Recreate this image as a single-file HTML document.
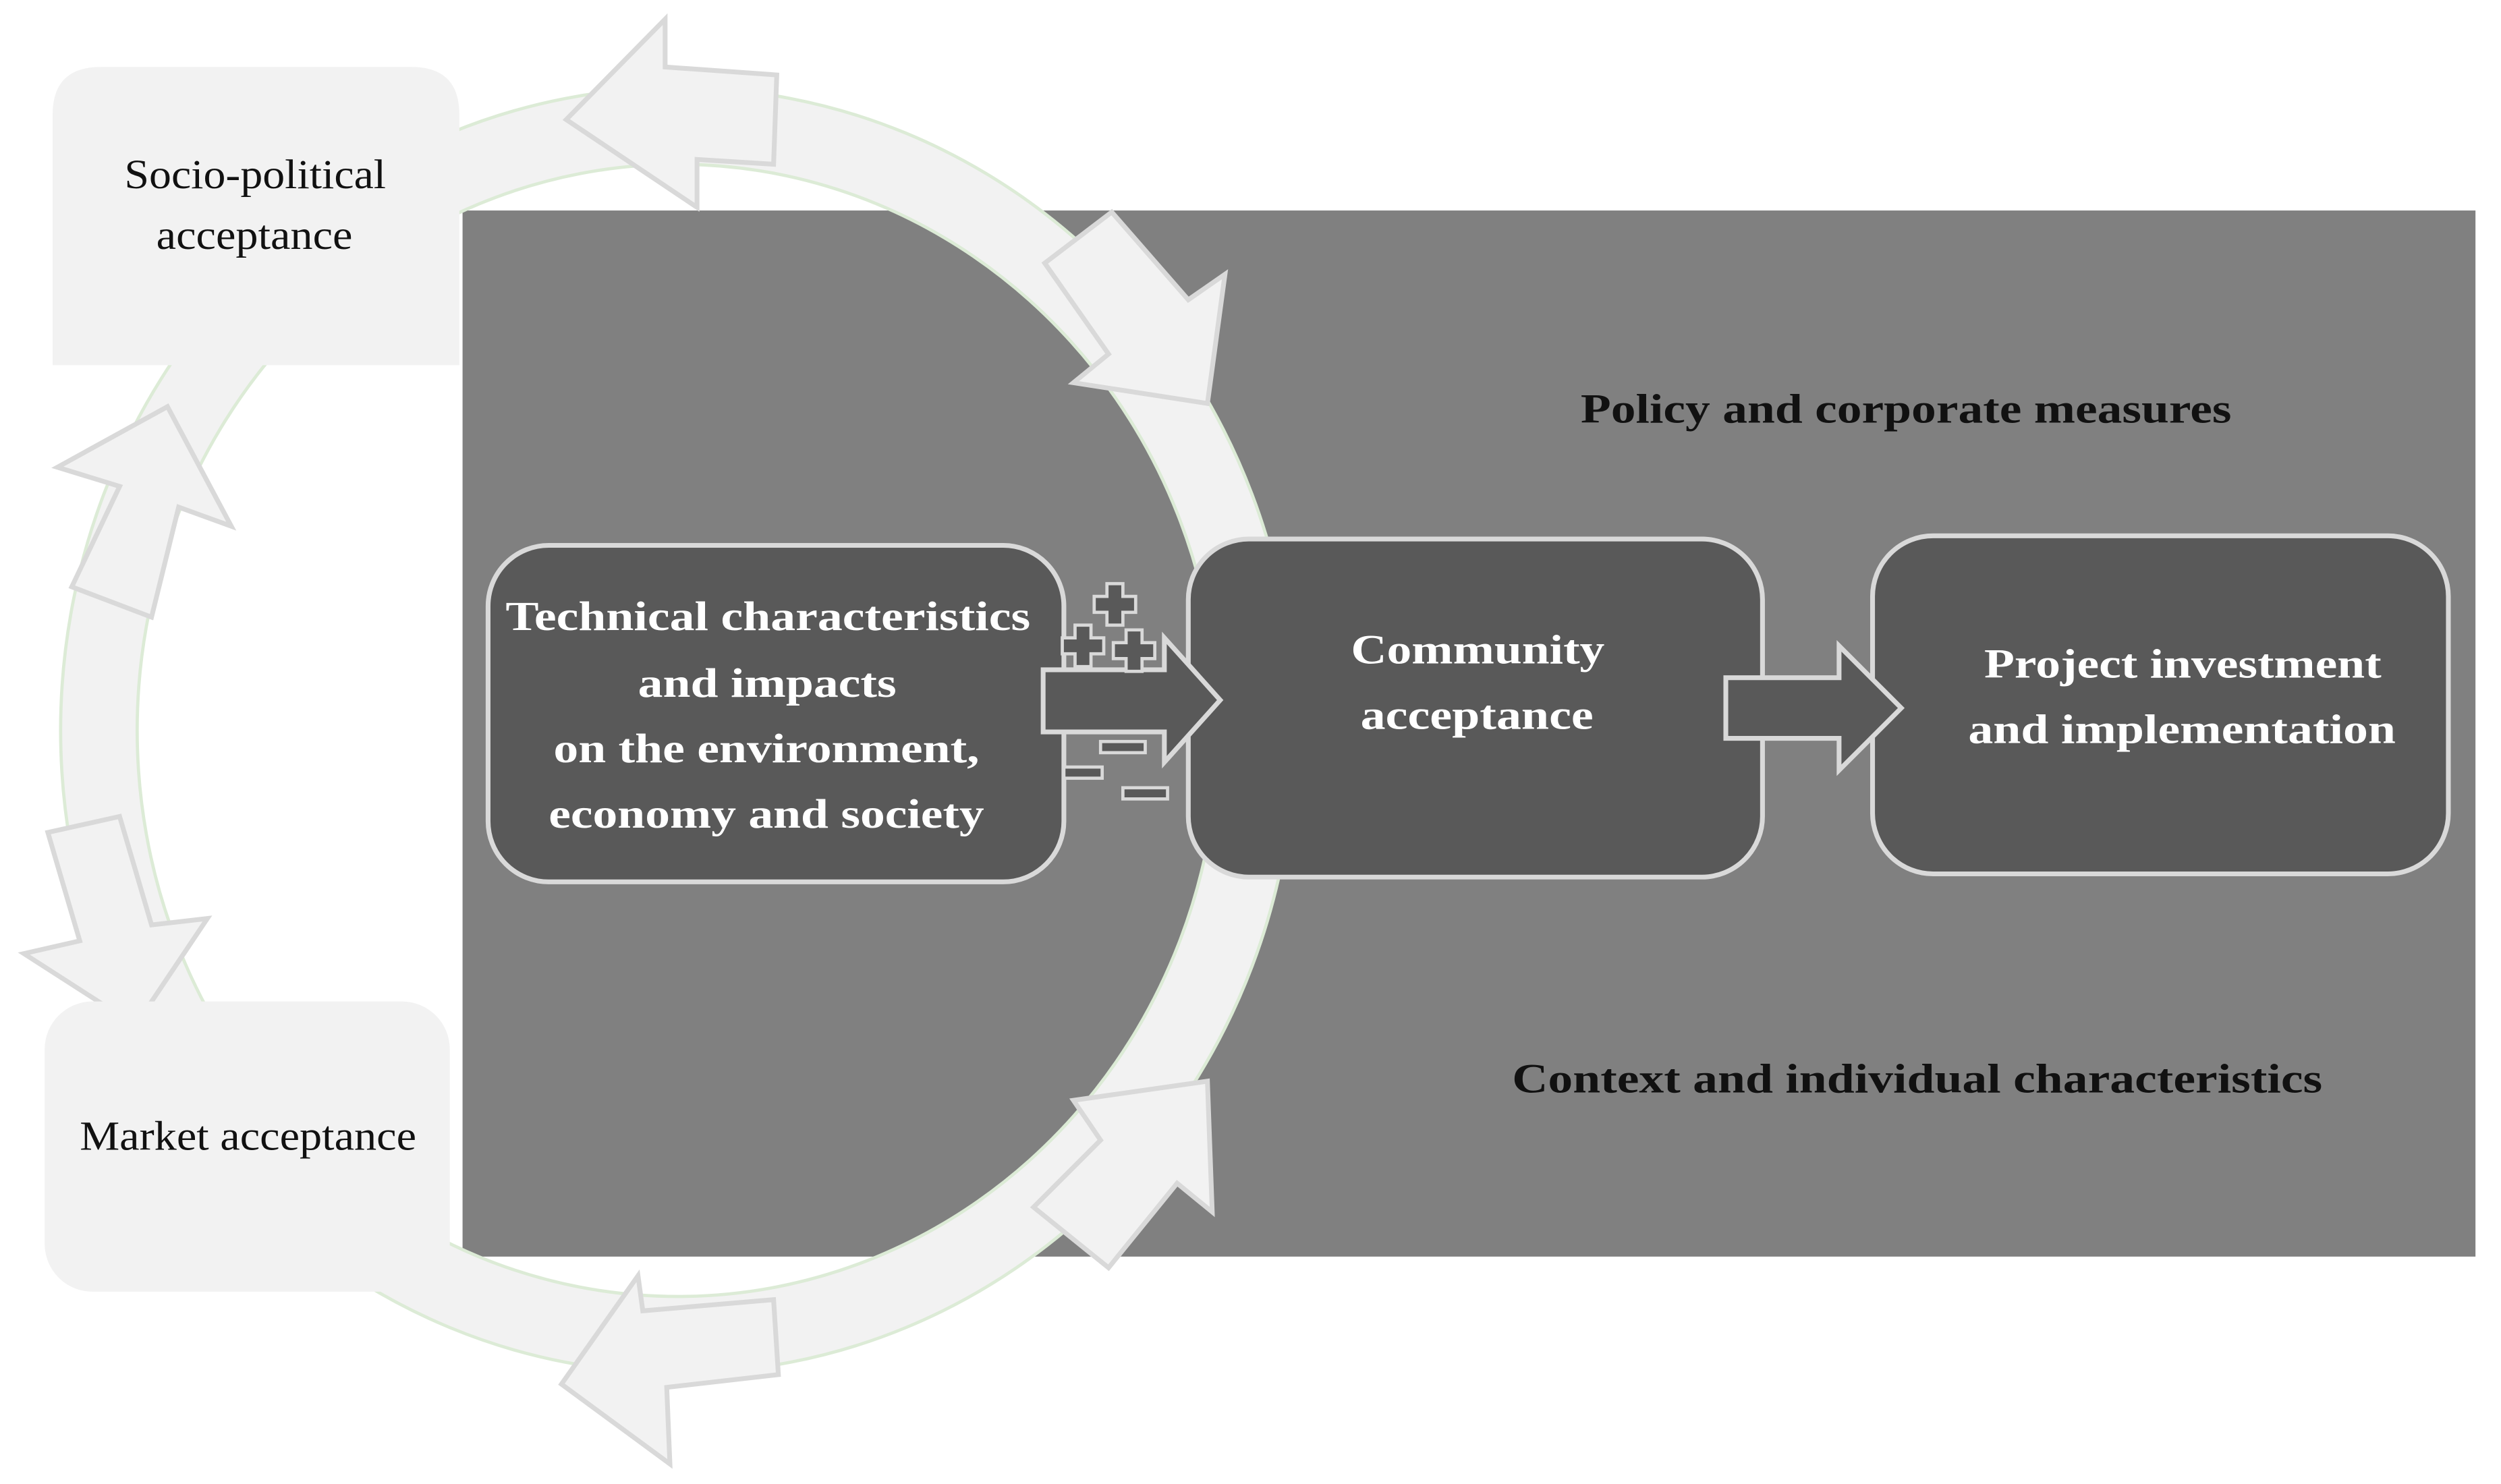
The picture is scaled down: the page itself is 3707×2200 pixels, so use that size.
<!DOCTYPE html>
<html><head><meta charset="utf-8"><style>
html,body{margin:0;padding:0;background:#fff;}
svg{display:block;}
</style></head><body>
<svg width="3707" height="2200" viewBox="0 0 1568 930.6" preserveAspectRatio="none" xmlns="http://www.w3.org/2000/svg">
<rect width="1568" height="931" fill="#fff"/>
<rect x="290" y="132" width="1262" height="656" fill="#808080"/>
<!-- ring -->
<ellipse cx="425" cy="458" rx="363" ry="379" fill="none" stroke="#dcebd6" stroke-width="50"/>
<ellipse cx="425" cy="458" rx="363" ry="379" fill="none" stroke="#f2f2f2" stroke-width="46"/>
<!-- ring arrows -->
<g fill="#f2f2f2" stroke="#d9d9d9" stroke-width="3" stroke-linejoin="miter">
<polygon points="487,47 417,42 417,12 355,75 437,130 437,100 485,103"/>
<polygon points="655,165 697,133 745,188 768,172 757,253 673,240 695,222"/>
<polygon points="45,368 75,305 36,293 105,255 145,330 112,318 95,387"/>
<polygon points="30,522 75,512 95,580 130,576 85,643 15,598 50,590"/>
<polygon points="485,815 403,822 400,800 352,868 420,918 418,870 488,862"/>
<polygon points="648,757 690,715 673,690 757,678 760,760 738,742 695,795"/>
</g>
<!-- corner boxes -->
<path d="M33,229 V72 Q33,42 63,42 H258 Q288,42 288,72 V229 Z" fill="#f2f2f2"/>
<rect x="28" y="628" width="254" height="182" rx="30" fill="#f2f2f2"/>
<g font-family="Liberation Serif, serif" fill="#111" font-size="26">
<text x="78" y="118" textLength="164" lengthAdjust="spacingAndGlyphs">Socio-political</text>
<text x="98" y="156" textLength="123" lengthAdjust="spacingAndGlyphs">acceptance</text>
<text x="50" y="721" textLength="211" lengthAdjust="spacingAndGlyphs">Market acceptance</text>
</g>
<!-- main boxes -->
<g fill="#595959" stroke="#d9d9d9" stroke-width="3">
<rect x="306" y="342" width="361" height="211" rx="38"/>
<rect x="745" y="338" width="360" height="212" rx="38"/>
<rect x="1174" y="336" width="361" height="212" rx="38"/>
<polygon points="654,420 730,420 730,400 765,439 730,478 730,459 654,459"/>
<polygon points="1082,425 1153,425 1153,405 1192,444 1153,483 1153,463 1082,463"/>
</g>
<!-- plus / minus -->
<g fill="#595959" stroke="#d9d9d9" stroke-width="2">
<path d="M694,366 h10 v8 h8 v10 h-8 v8 h-10 v-8 h-8 v-10 h8 z"/>
<path d="M674,392 h10 v8 h8 v10 h-8 v8 h-10 v-8 h-8 v-10 h8 z"/>
<path d="M706,395 h10 v8 h8 v10 h-8 v8 h-10 v-8 h-8 v-10 h8 z"/>
<rect x="690" y="465" width="28" height="7"/>
<rect x="667" y="481" width="24" height="7"/>
<rect x="704" y="494" width="28" height="7"/>
</g>
<g font-family="Liberation Serif, serif" font-weight="bold" fill="#fff" font-size="26">
<text x="317" y="395" textLength="329" lengthAdjust="spacingAndGlyphs">Technical characteristics</text>
<text x="400" y="437" textLength="162" lengthAdjust="spacingAndGlyphs">and impacts</text>
<text x="347" y="478" textLength="267" lengthAdjust="spacingAndGlyphs">on the environment,</text>
<text x="344" y="519" textLength="273" lengthAdjust="spacingAndGlyphs">economy and society</text>
<text x="847" y="416" textLength="159" lengthAdjust="spacingAndGlyphs">Community</text>
<text x="853" y="457" textLength="146" lengthAdjust="spacingAndGlyphs">acceptance</text>
<text x="1244" y="425" textLength="249" lengthAdjust="spacingAndGlyphs">Project investment</text>
<text x="1234" y="466" textLength="268" lengthAdjust="spacingAndGlyphs">and implementation</text>
</g>
<g font-family="Liberation Serif, serif" font-weight="bold" fill="#111" font-size="26">
<text x="991" y="265" textLength="408" lengthAdjust="spacingAndGlyphs">Policy and corporate measures</text>
<text x="948" y="685" textLength="508" lengthAdjust="spacingAndGlyphs">Context and individual characteristics</text>
</g>
</svg>
</body></html>
